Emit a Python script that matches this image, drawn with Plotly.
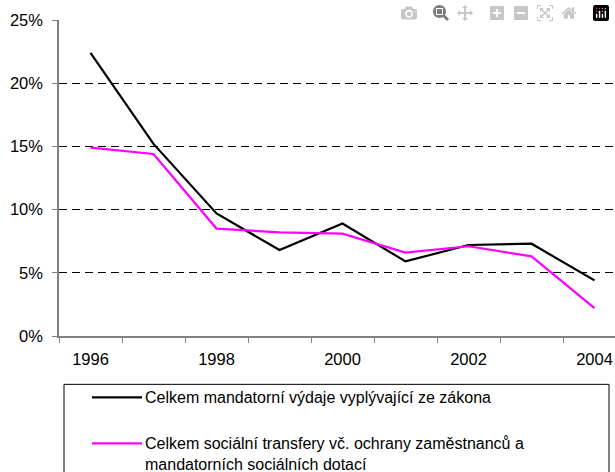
import plotly.graph_objects as go

# ---- data ----
years = [1996, 1997, 1998, 1999, 2000, 2001, 2002, 2003, 2004]
mandatory = [22.4, 15.2, 9.7, 6.8, 8.9, 5.9, 7.2, 7.3, 4.4]
social = [14.9, 14.4, 8.5, 8.2, 8.1, 6.6, 7.1, 6.3, 2.2]
y_tick_vals = [0, 5, 10, 15, 20, 25]
y_tick_text = ["0%", "5%", "10%", "15%", "20%", "25%"]
x_tick_vals = [1996, 1998, 2000, 2002, 2004]
x_tick_text = ["1996", "1998", "2000", "2002", "2004"]
series_names = [
    "Celkem mandatorní výdaje vyplývající ze zákona",
    "Celkem sociální transfery vč. ochrany zaměstnanců a<br>mandatorních sociálních dotací",
]
series_colors = ["#000000", "#FF00FF"]

# body margin removed in the page (post_script), so figure pixels = screen pixels
OFF = 0
W, H = 615, 472
L = 59
T = 20
B = H - 335.7
R = 0
PW, PH = W - L - R, H - T - B


def px(x):
    return (x - OFF - L) / PW


def py(y):
    return (H - B - (y - OFF)) / PH


FONT = "Liberation Sans, Arial, sans-serif"

fig = go.Figure()
for vals, name, col in zip([mandatory, social], series_names, series_colors):
    fig.add_trace(go.Scatter(x=years, y=vals, mode="lines", name=name,
                             line=dict(color=col, width=2.2), showlegend=False))

fig.update_layout(
    width=W, height=H,
    margin=dict(l=L, r=R, t=T, b=B, pad=0, autoexpand=False),
    paper_bgcolor="white", plot_bgcolor="white",
    font=dict(family=FONT, size=16.5, color="#000000"),
)
fig.update_xaxes(
    range=[1995.5, 1995.5 + PW / 63.0], automargin=False,
    tickvals=x_tick_vals, ticktext=x_tick_text,
    ticks="", showgrid=False, zeroline=False,
    showline=True, linecolor="#808080", linewidth=1.5,
    ticklabelstandoff=7,
    minor=dict(tickvals=[y + 0.5 for y in range(1995, 2005)], ticks="outside",
               ticklen=5, tickcolor="#808080", tickwidth=1.2, showgrid=False),
)
fig.update_yaxes(
    range=[0, 25], automargin=False, tickvals=y_tick_vals, ticktext=y_tick_text,
    ticks="outside", ticklen=5, tickcolor="#808080", tickwidth=1.2,
    showline=True, linecolor="#808080", linewidth=1.5,
    showgrid=True, gridcolor="#000000", gridwidth=1, griddash="8px,5px",
    zeroline=False, ticklabelstandoff=6,
)

# legend drawn as box + sample lines + text
shapes = [dict(type="rect", xref="paper", yref="paper",
               x0=px(64), x1=px(609), y0=py(384), y1=py(495),
               line=dict(color="#000000", width=1), fillcolor="rgba(0,0,0,0)")]
legend_y = [397, 443]
for ly, col in zip(legend_y, series_colors):
    shapes.append(dict(type="line", xref="paper", yref="paper",
                       x0=px(92), x1=px(142), y0=py(ly), y1=py(ly),
                       line=dict(color=col, width=2.2)))
fig.update_layout(shapes=shapes)
fig.add_annotation(xref="paper", yref="paper", x=px(143), y=py(397),
                   xanchor="left", yanchor="middle", align="left", showarrow=False,
                   text=series_names[0], font=dict(size=16, family=FONT))
fig.add_annotation(xref="paper", yref="paper", x=px(143), y=py(453.5),
                   xanchor="left", yanchor="middle", align="left", showarrow=False,
                   text=series_names[1], font=dict(size=16, family=FONT))

fig.write_html(
    "out.html",
    post_script="document.body.style.margin='0px';"
                "document.documentElement.style.overflow='hidden';",
)
